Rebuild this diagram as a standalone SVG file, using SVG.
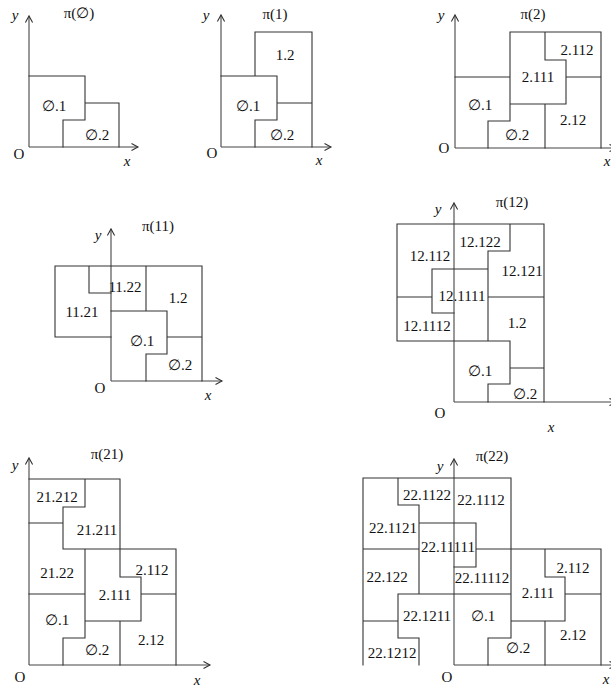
<svg xmlns="http://www.w3.org/2000/svg" width="611" height="688" viewBox="0 0 611 688">
<style>
.b{fill:none;stroke:#333;stroke-width:1.1;stroke-linecap:square}
.ax{fill:none;stroke:#444;stroke-width:1.1;marker-end:url(#ah)}
text{font-family:"Liberation Serif","DejaVu Serif",serif;font-size:15px;fill:#111;text-anchor:middle}
.v{font-style:italic}
</style>
<defs>
<marker id="ah" markerUnits="userSpaceOnUse" markerWidth="12" markerHeight="12" refX="0" refY="0" viewBox="-8 -6 10 12" orient="auto">
<path d="M-6.5,-3.6 L0,0 L-6.5,3.6" fill="none" stroke="#333" stroke-width="1.1"/>
</marker>
</defs>
<rect width="611" height="688" fill="#fff"/>

<g id="p-empty">
<path class="ax" d="M29,147 V16"/>
<path class="ax" d="M29,147 H138"/>
<path class="b" d="M29,76 H85 V120 H63 V147 M85,103 H119 V147"/>
<text x="79" y="18">π(∅)</text>
<text class="v" x="15" y="20">y</text>
<text x="19" y="159">O</text>
<text class="v" x="127" y="166">x</text>
<text x="54" y="111">∅.1</text>
<text x="97" y="140">∅.2</text>
</g>

<g id="p-1">
<path class="ax" d="M221,147 V15"/>
<path class="ax" d="M221,147 H331"/>
<path class="b" d="M221,76 H277 V120 H255 V147 M277,103 H312 M255,76 V32 H312 V147"/>
<text x="275" y="19">π(1)</text>
<text class="v" x="206" y="20">y</text>
<text x="212" y="158">O</text>
<text class="v" x="319" y="165">x</text>
<text x="285" y="60">1.2</text>
<text x="248" y="111">∅.1</text>
<text x="282" y="140">∅.2</text>
</g>

<g id="p-2">
<path class="ax" d="M455,148 V15"/>
<path class="ax" d="M455,148 H616"/>
<path class="b" d="M455,77 H510 V121 H488 V148 M510,77 V32 H601 V148 M545,32 V60 H566 V104 H510 M545,104 V148 M566,77 H601"/>
<text x="533" y="19">π(2)</text>
<text class="v" x="441" y="20">y</text>
<text x="444" y="153">O</text>
<text class="v" x="607" y="166">x</text>
<text x="577" y="55">2.112</text>
<text x="538" y="82">2.111</text>
<text x="480" y="110">∅.1</text>
<text x="517" y="140">∅.2</text>
<text x="573" y="125">2.12</text>
</g>

<g id="p-11">
<path class="ax" d="M111,381 V229"/>
<path class="ax" d="M111,381 H222"/>
<path class="b" d="M111,311 H167 V354 H146 V381 M146,311 V266 M167,337 H202 M55,266 H202 V381 M89,266 V293 H111 M55,266 V337 H111"/>
<text x="158" y="231">π(11)</text>
<text class="v" x="98" y="240">y</text>
<text x="100" y="393">O</text>
<text class="v" x="208" y="400">x</text>
<text x="125" y="292">11.22</text>
<text x="178" y="303">1.2</text>
<text x="82" y="317">11.21</text>
<text x="142" y="346">∅.1</text>
<text x="180" y="370">∅.2</text>
</g>

<g id="p-12">
<path class="ax" d="M454,402 V203"/>
<path class="ax" d="M454,402 H616"/>
<path class="b" d="M454,341 H397 V224 H544 V402 M454,341 H510 V384 H488 V402 M510,368 H544 M488,297 H544 M510,224 V251 H488 V341 M432,269 H488 M432,269 V313 H454 M397,297 H432"/>
<text x="512" y="207">π(12)</text>
<text class="v" x="438" y="214">y</text>
<text x="440" y="418">O</text>
<text class="v" x="551" y="432">x</text>
<text x="430" y="261">12.112</text>
<text x="480" y="247">12.122</text>
<text x="522" y="276">12.121</text>
<text x="462" y="301">12.1111</text>
<text x="427" y="331">12.1112</text>
<text x="517" y="328">1.2</text>
<text x="480" y="376">∅.1</text>
<text x="525" y="399">∅.2</text>
</g>

<g id="p-21">
<path class="ax" d="M29,665 V458"/>
<path class="ax" d="M29,665 H210"/>
<path class="b" d="M29,594 H85 V638 H63 V665 M85,594 V549 M63,549 H176 V665 M120,549 V577 H141 V621 H85 M120,621 V665 M141,594 H176 M29,479 H120 V549 M85,479 V507 H63 V549 M29,523 H63"/>
<text x="107" y="459">π(21)</text>
<text class="v" x="15" y="470">y</text>
<text x="20" y="682">O</text>
<text class="v" x="197" y="685">x</text>
<text x="57" y="502">21.212</text>
<text x="97" y="535">21.211</text>
<text x="57" y="578">21.22</text>
<text x="152" y="575">2.112</text>
<text x="115" y="600">2.111</text>
<text x="57" y="625">∅.1</text>
<text x="97" y="655">∅.2</text>
<text x="151" y="645">2.12</text>
</g>

<g id="p-22">
<path class="ax" d="M454,665 V459"/>
<path class="ax" d="M454,665 H616"/>
<path class="b" d="M398,594 H511 M511,549 V638 H488 V665 M476,549 H601 V665 M545,549 V577 H565 V621 H511 M545,621 V665 M565,594 H601 M511,549 V478 H363 V665 M398,478 V505 H419 V594 M363,549 H419 M419,523 H476 V567 H454 M398,594 V638 H419 V665 M363,621 H398"/>
<text x="492" y="461">π(22)</text>
<text class="v" x="440" y="471">y</text>
<text x="447" y="682">O</text>
<text class="v" x="606" y="684">x</text>
<text x="427" y="500">22.1122</text>
<text x="481" y="505">22.1112</text>
<text x="393" y="533">22.1121</text>
<text x="448" y="552">22.11111</text>
<text x="387" y="582">22.122</text>
<text x="482" y="583">22.11112</text>
<text x="573" y="573">2.112</text>
<text x="538" y="598">2.111</text>
<text x="427" y="621">22.1211</text>
<text x="483" y="621">∅.1</text>
<text x="573" y="640">2.12</text>
<text x="518" y="653">∅.2</text>
<text x="392" y="658">22.1212</text>
</g>
</svg>
